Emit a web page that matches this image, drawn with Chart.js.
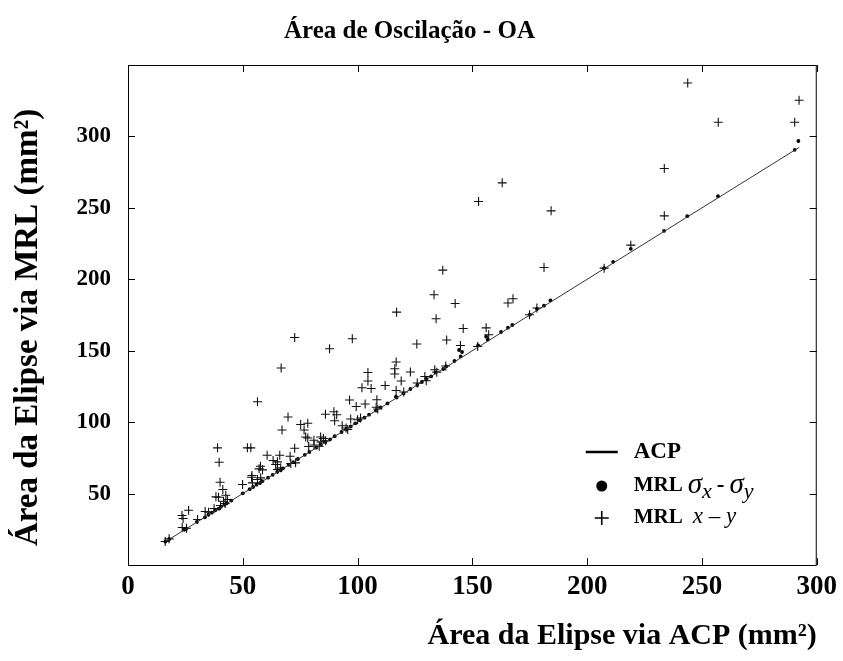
<!DOCTYPE html>
<html>
<head>
<meta charset="utf-8">
<script src="https://cdn.jsdelivr.net/npm/chart.js@4.4.1/dist/chart.umd.min.js"></script>
<style>
  html, body { margin: 0; padding: 0; background: #fff; }
</style>
</head>
<body>
<canvas id="chart" width="843" height="661"></canvas>
<script>
const SERIF = "'Liberation Serif', 'Times New Roman', serif"

const chartTitle = 'Área de Oscilação - OA'
const xTitle = 'Área da Elipse via ACP (mm²)'
// trailing nbsp pushes the centred rotated title a bit lower, as in the original
const yTitle = 'Área da Elipse via MRL (mm²)\u00a0\u00a0\u00a0'

const xTicks = [0, 50, 100, 150, 200, 250, 300]
const yTicks = [50, 100, 150, 200, 250, 300]

// ACP reference line
const acpX = [16.2, 292.4]
const acpY = [16.2, 292.4]

// MRL sigma_x - sigma_y (dots)
const sigmaAcp = [16.3,18,24.5,25.5,30,33.5,35,36.5,38,39.5,
  40.5,42,43,45,50,53,54.5,56,57.5,58.5,
  61,63,65,66.5,67.5,70,72,74,77,79,
  82,84,86,88,90,93,95,97,99,101,
  103,105,108,110,113,116.7,117,120,123,126,
  128,130,132,134,137.3,138.6,142.2,144.2,145.5,144.9,
  152.5,156,156.7,162.5,165.5,167.4,175,178.1,181.2,184,
  207.4,211.3,219,233.5,243.6,257,290.4,292]
const sigmaMrl = [16.4,18.2,24.6,25.5,30.2,33.4,35.2,36.6,38.3,39.4,
  40.8,42.1,43.2,45.1,50.2,53.1,54.6,56.2,57.4,58.7,
  61.1,63.1,65.2,66.4,67.7,70.1,72,74.2,77.1,79.1,
  82.1,84.2,86.1,88,90.2,93.1,95.1,97,99.2,101.3,
  103.1,105.2,108.1,110.3,113.1,117.8,117.2,120.1,123.2,126,
  128.1,130.2,132,134.8,137.2,139,142.8,150.5,149.1,146,
  153.7,159.8,157.7,163.1,166.1,168,175.2,179.2,181.5,185.2,
  207.8,212.2,221.3,233.9,244.2,258.2,290.6,296.8]

// MRL x - y (crosses)
const xyAcp = [16.2,17.9,23.5,24,23.6,25.5,26.4,30.3,33.6,35.1,
  37.5,38.3,39.4,39,39.7,40.1,41.3,40.3,41.6,42.3,
  43.3,42.6,49.9,52,53.5,53.8,54.2,54,56.4,56.4,
  57.1,57.7,58.6,57.8,60.6,63.2,64.3,65.1,65.1,66.5,
  66.1,66.7,67.1,69.7,70.6,70.9,72.6,72.6,73,75.2,
  76.7,77.4,78.3,78.3,78.7,81,81,83.3,83.9,84.1,
  85.1,86.1,86,87.8,89.7,90.9,90,93.3,95,95.7,
  96.5,97,97.7,99.4,100,101.3,101.9,103.3,104.5,104.5,
  105.9,108.1,108.4,108.8,112,116.2,116.2,116.8,116.8,117,
  119,120.1,123,125.8,129.3,126,129.9,133.3,133.6,134.5,
  134.2,137.1,138.4,138.8,142.5,144.8,146,152.3,152.7,156,
  157.1,163,165.5,167.7,174.9,178.1,181.2,184.3,207.4,219,
  233.6,233.6,243.8,257.1,290.4,292.3]
const xyMrl = [16.4,18.3,34.6,32.5,26.2,25.7,38.3,31.8,37.4,36.9,
  39.5,47.7,47.4,82,71.9,57.9,52.8,41.6,44.6,43,
  45.8,48.8,56.3,82,82,61.4,57.5,62.6,59.8,114.3,
  67.3,69.1,66.6,61,76.8,73.1,70.3,72.2,66.8,68,
  76.8,137.9,94.5,103.6,76.1,71,159.3,81.7,71.5,98.3,
  94.5,89.6,99.2,88.9,82.9,87.3,84,83.1,89.6,86.2,
  88.5,86.9,105.5,151.4,107.3,105.2,101,97.5,95.9,94.8,
  115.5,102.2,158.4,111,101.7,102.9,124.1,112.7,134.8,128.8,
  123.6,110.4,115.7,109.2,125.7,137.4,133.7,142.1,122.2,177,
  128.8,121.1,135.1,154.7,132,127.4,129,189.2,136.7,135,
  172.4,206.4,139.3,157.5,183.1,153.7,165.6,153,254.4,166,
  161.2,267.5,183.4,186.4,175.2,179.9,208.3,247.9,207.8,223.9,
  244.4,277.5,337.4,309.9,309.9,325.3]

const toPoints = (xs, ys) => xs.map((x, i) => ({ x: x, y: ys[i] }))

// box round the plot with inward tick marks on all four sides
const framePlugin = {
  id: 'frame',
  afterDatasetsDraw (chart) {
    const { ctx, chartArea: a, scales: { x, y } } = chart
    const len = 7
    ctx.save()
    ctx.strokeStyle = '#000'
    ctx.lineWidth = 1
    ctx.strokeRect(a.left + 0.5, a.top + 0.5, a.right - a.left - 1, a.bottom - a.top)
    ctx.beginPath()
    xTicks.forEach(v => {
      const px = Math.round(x.getPixelForValue(v)) + 0.5
      ctx.moveTo(px, a.bottom); ctx.lineTo(px, a.bottom - len)
      ctx.moveTo(px, a.top); ctx.lineTo(px, a.top + len)
    })
    yTicks.forEach(v => {
      const py = Math.round(y.getPixelForValue(v)) + 0.5
      ctx.moveTo(a.left, py); ctx.lineTo(a.left + len, py)
      ctx.moveTo(a.right, py); ctx.lineTo(a.right - len, py)
    })
    ctx.stroke()
    ctx.restore()
  }
}

// legend with the math-style labels
const legendPlugin = {
  id: 'mathLegend',
  afterDraw (chart) {
    const { ctx, chartArea: a } = chart
    const symX = a.right - 215
    const txtX = a.right - 183
    const rows = [a.bottom - 113, a.bottom - 79, a.bottom - 47]
    ctx.save()
    ctx.fillStyle = '#000'
    ctx.strokeStyle = '#000'
    ctx.textBaseline = 'middle'

    // ACP
    ctx.lineWidth = 2.5
    ctx.beginPath()
    ctx.moveTo(symX - 16, rows[0]); ctx.lineTo(symX + 16, rows[0])
    ctx.stroke()
    ctx.font = 'bold 23px ' + SERIF
    ctx.fillText('ACP', txtX, rows[0])

    // MRL sigma
    ctx.beginPath()
    ctx.arc(symX, rows[1], 5.5, 0, Math.PI * 2)
    ctx.fill()
    let cx = txtX
    ctx.font = 'bold 21px ' + SERIF
    ctx.fillText('MRL', cx, rows[1])
    cx += ctx.measureText('MRL').width + 5
    ctx.font = 'italic 29px ' + SERIF
    ctx.fillText('σ', cx, rows[1] - 1)
    cx += ctx.measureText('σ').width
    ctx.font = 'italic 22px ' + SERIF
    ctx.fillText('x', cx, rows[1] + 6)
    cx += ctx.measureText('x').width + 5
    ctx.font = 'bold 23px ' + SERIF
    ctx.fillText('-', cx, rows[1])
    cx += ctx.measureText('-').width + 5
    ctx.font = 'italic 29px ' + SERIF
    ctx.fillText('σ', cx, rows[1] - 1)
    cx += ctx.measureText('σ').width
    ctx.font = 'italic 22px ' + SERIF
    ctx.fillText('y', cx, rows[1] + 6)

    // MRL x - y
    ctx.lineWidth = 1.6
    ctx.beginPath()
    ctx.moveTo(symX - 7, rows[2]); ctx.lineTo(symX + 7, rows[2])
    ctx.moveTo(symX, rows[2] - 7); ctx.lineTo(symX, rows[2] + 7)
    ctx.stroke()
    cx = txtX
    ctx.font = 'bold 21px ' + SERIF
    ctx.fillText('MRL', cx, rows[2])
    cx += ctx.measureText('MRL').width + 10
    ctx.font = 'italic 23px ' + SERIF
    ctx.fillText('x – y', cx, rows[2] - 1)
    ctx.restore()
  }
}

new Chart(document.getElementById('chart'), {
  type: 'scatter',
  data: {
    datasets: [
      {
        label: 'ACP',
        data: toPoints(acpX, acpY),
        showLine: true,
        borderColor: '#333',
        borderWidth: 1,
        pointRadius: 0
      },
      {
        label: 'MRL σx - σy',
        data: toPoints(sigmaAcp, sigmaMrl),
        pointStyle: 'circle',
        pointRadius: 1.9,
        backgroundColor: '#000',
        borderColor: '#000',
        borderWidth: 0
      },
      {
        label: 'MRL x - y',
        data: toPoints(xyAcp, xyMrl),
        pointStyle: 'cross',
        pointRadius: 4.5,
        borderColor: '#111',
        borderWidth: 1.1
      }
    ]
  },
  options: {
    responsive: false,
    animation: false,
    layout: { padding: { left: 0, right: 24, top: 0, bottom: 0 } },
    plugins: {
      legend: { display: false },
      tooltip: { enabled: false },
      title: {
        display: true,
        text: chartTitle,
        color: '#000',
        font: { family: SERIF, size: 25, weight: 'bold' },
        padding: { top: 17, bottom: 18 }
      }
    },
    scales: {
      x: {
        type: 'linear',
        min: 0,
        max: 300,
        afterBuildTicks: (s) => { s.ticks = xTicks.map(v => ({ value: v })) },
        afterFit: (s) => { s.height = 96 },
        grid: { display: false, drawTicks: false },
        border: { display: false },
        ticks: {
          color: '#000',
          padding: 6,
          maxRotation: 0,
          font: { family: SERIF, size: 27, weight: 'bold' }
        },
        title: {
          display: true,
          text: xTitle,
          align: 'end',
          color: '#000',
          font: { family: SERIF, size: 30, weight: 'bold' },
          padding: { top: 0, bottom: 7 }
        }
      },
      y: {
        type: 'linear',
        min: 0,
        max: 350,
        afterBuildTicks: (s) => { s.ticks = yTicks.map(v => ({ value: v })) },
        afterFit: (s) => { s.width = 128 },
        grid: { display: false, drawTicks: false },
        border: { display: false },
        ticks: {
          color: '#000',
          padding: 17,
          font: { family: SERIF, size: 23, weight: 'bold' }
        },
        title: {
          display: true,
          text: yTitle,
          color: '#000',
          font: { family: SERIF, size: 33, weight: 'bold' },
          padding: { top: 9, bottom: 0 }
        }
      }
    }
  },
  plugins: [framePlugin, legendPlugin]
})
</script>
</body>
</html>
